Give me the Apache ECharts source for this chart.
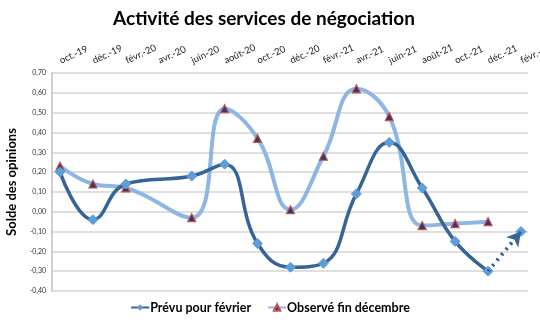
<!DOCTYPE html>
<html><head><meta charset="utf-8">
<script src="https://cdn.jsdelivr.net/npm/echarts@6/dist/echarts.min.js"></script>
<style>html,body{margin:0;padding:0;background:#fff}#c{width:540px;height:327px}</style>
</head><body><div id="c"></div>
<script>
const categories = ['oct.-19','déc.-19','févr.-20','avr.-20','juin-20','août-20','oct.-20','déc.-20','févr.-21','avr.-21','juin-21','août-21','oct.-21','déc.-21','févr.-22'];
const prevu = [0.20,-0.04,0.14,null,0.18,0.24,-0.16,-0.28,-0.26,0.09,0.35,0.12,-0.15,-0.30];
const prevuFevr22 = -0.10;
const observe = [0.23,0.14,0.12,null,-0.03,0.52,0.37,0.01,0.28,0.62,0.48,-0.07,-0.06,-0.05];
const yTicks = {min:-0.4, max:0.7, interval:0.1};

const FONT = 'Lato';
const darkBlue = '#356495';
const lightBlue = '#8DB6E3';
const diamondFill = '#5E9DD8';

const forecast = categories.map((c,i)=> i===prevu.length-1 ? {value:prevu[i], symbol:'none'} : (i===prevu.length ? {value:prevuFevr22, symbol:'diamond'} : null));

const chart = echarts.init(document.getElementById('c'), null, {renderer:'canvas'});
chart.setOption({
  animation:false,
  title:{text:'Activité des services de négociation', left:259, top:4, textAlign:'center',
    textStyle:{fontFamily:FONT, fontWeight:'bold', fontSize:19, color:'#000'}},
  legend:{bottom:8, left:'center', itemGap:16, itemWidth:18, itemHeight:8,
    data:['Prévu pour février','Observé fin décembre'],
    textStyle:{fontFamily:FONT, fontWeight:'bold', fontSize:12.5, color:'#000', padding:[0,0,0,-4]}},
  grid:[
    {left:52, right:12, top:73, bottom:36, outerBoundsMode:'none', containLabel:false},
    {left:60, right:19, top:73, bottom:36, outerBoundsMode:'none', containLabel:false}
  ],
  xAxis:[
    {gridIndex:0, type:'category', data:categories, show:false},
    {gridIndex:1, type:'category', data:categories, position:'top', boundaryGap:false,
      axisLine:{show:false}, axisTick:{show:false},
      axisLabel:{interval:0, rotate:25, margin:12, align:'left', verticalAlign:'middle',
        fontFamily:FONT, fontSize:9.5, color:'#222'}}
  ],
  yAxis:[
    {gridIndex:0, type:'value', min:yTicks.min, max:yTicks.max, interval:yTicks.interval,
      name:'Solde des opinions', nameLocation:'middle', nameGap:34, nameRotate:90,
      nameTextStyle:{fontFamily:FONT, fontWeight:'bold', fontSize:13, color:'#000'},
      axisLine:{show:true, lineStyle:{color:'#BFBFBF', width:1.5}}, axisTick:{show:false},
      splitLine:{lineStyle:{color:'#D4D4D4', width:1.5}},
      axisLabel:{fontFamily:FONT, fontSize:7, color:'#333', margin:6,
        formatter:v=>v.toFixed(2).replace('.',',')}},
    {gridIndex:1, type:'value', min:yTicks.min, max:yTicks.max, interval:yTicks.interval, show:false}
  ],
  series:[
    {name:'Observé fin décembre', type:'line', xAxisIndex:1, yAxisIndex:1, data:observe,
      smooth:0.45, connectNulls:true, symbol:'triangle', symbolSize:8, showAllSymbol:true,
      lineStyle:{color:lightBlue, width:4},
      itemStyle:{color:'#2E3B6B', borderColor:'#C8504E', borderWidth:1.2}},
    {name:'Prévu pour février', type:'line', xAxisIndex:1, yAxisIndex:1, data:prevu,
      smooth:0.45, connectNulls:true, symbol:'diamond', symbolSize:10, showAllSymbol:true,
      lineStyle:{color:darkBlue, width:3.5},
      itemStyle:{color:diamondFill, borderColor:diamondFill}},
    {name:'prevision', type:'line', xAxisIndex:1, yAxisIndex:1, data:forecast,
      symbolSize:10, lineStyle:{color:darkBlue, width:3.5, type:[2,5]},
      itemStyle:{color:diamondFill, borderColor:diamondFill},
      markLine:{silent:true, symbol:['none','arrow'], symbolSize:[12,14],
        lineStyle:{color:darkBlue, width:3.5, type:[2,5]}, label:{show:false},
        data:[[{coord:[prevu.length-1, prevu[prevu.length-1]]},{coord:[prevu.length, prevuFevr22]}]]}}
  ]
});
</script></body></html>
